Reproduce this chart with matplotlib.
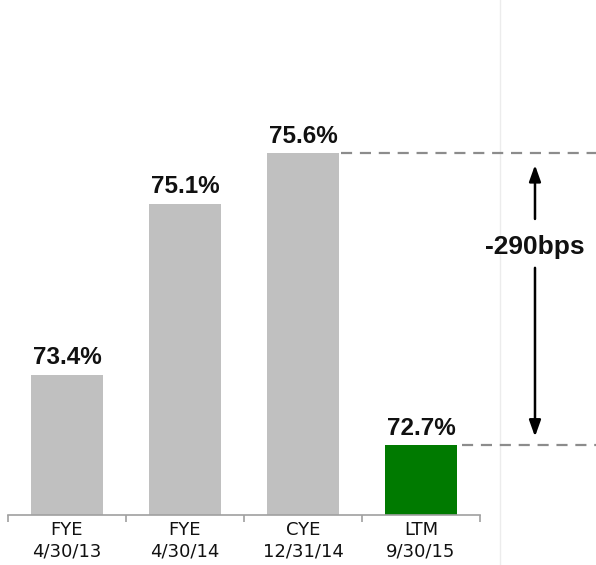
import matplotlib
matplotlib.use("Agg")
import matplotlib.pyplot as plt
from matplotlib.lines import Line2D

# gross margin by period
periods = ["FYE\n4/30/13", "FYE\n4/30/14", "CYE\n12/31/14", "LTM\n9/30/15"]
margins = [73.4, 75.1, 75.6, 72.7]
bar_colors = ["#c0c0c0", "#c0c0c0", "#c0c0c0", "#007a00"]
change_label = "-290bps"

fig = plt.figure(figsize=(5.96, 5.65), dpi=100)
ax = fig.add_axes([8 / 596, 50 / 565, 588 / 596, 515 / 565])
ax.patch.set_visible(False)

x = list(range(len(periods)))
bars = ax.bar(x, margins, width=0.61, color=bar_colors, zorder=2)

ax.set_xlim(-0.5, -0.5 + 588 / 118)
ax.set_ylim(72.01, 77.12)

for b, v in zip(bars, margins):
    ax.annotate(f"{v:.1f}%", (b.get_x() + b.get_width() / 2, v),
                xytext=(0, 4), textcoords="offset points",
                ha="center", va="bottom", fontsize=17.5, fontweight="bold",
                family="Liberation Sans", color="#111111")

# dashed guides from the peak and the latest bar
peak = margins[2]
last = margins[3]
ax.plot([bars[2].get_x() + bars[2].get_width() + 0.02, ax.get_xlim()[1]], [peak, peak],
        color="#8c8c8c", lw=1.6, ls=(0, (5, 3.5)), clip_on=False)
ax.plot([bars[3].get_x() + bars[3].get_width() + 0.04, ax.get_xlim()[1]], [last, last],
        color="#8c8c8c", lw=1.6, ls=(0, (5, 3.5)), clip_on=False)

# change arrow with label
ax_x = 3.966
mid = 74.67
ax.annotate("", xy=(ax_x, peak - 0.09), xytext=(ax_x, mid + 0.25),
            arrowprops=dict(arrowstyle="-|>,head_width=0.25,head_length=0.7",
                            color="black", lw=1.8, mutation_scale=14))
ax.annotate("", xy=(ax_x, last + 0.06), xytext=(ax_x, mid - 0.18),
            arrowprops=dict(arrowstyle="-|>,head_width=0.25,head_length=0.7",
                            color="black", lw=1.8, mutation_scale=14))
ax.text(ax_x, mid, change_label, ha="center", va="center", fontsize=19,
        fontweight="bold", family="Liberation Sans", color="#111111", zorder=5)

# axis styling
for s in ["top", "right", "left"]:
    ax.spines[s].set_visible(False)
ax.spines["bottom"].set_bounds(-0.5, 3.5)
ax.spines["bottom"].set_color("#a0a0a0")
ax.spines["bottom"].set_linewidth(1.2)
ax.set_yticks([])
ax.set_xticks(x)
ax.set_xticklabels(periods, fontsize=13, color="#111111", linespacing=1.3)
ax.tick_params(axis="x", which="major", length=0, pad=4)
ax.set_xticks([-0.5, 0.5, 1.5, 2.5, 3.5], minor=True)
ax.tick_params(axis="x", which="minor", length=5, color="#a0a0a0", width=1.2)

# faint slide divider, behind everything
fig.add_artist(Line2D([500 / 596, 500 / 596], [0, 1], color="#ececec", lw=1, zorder=-1))

fig.savefig("out.png", dpi=100)
